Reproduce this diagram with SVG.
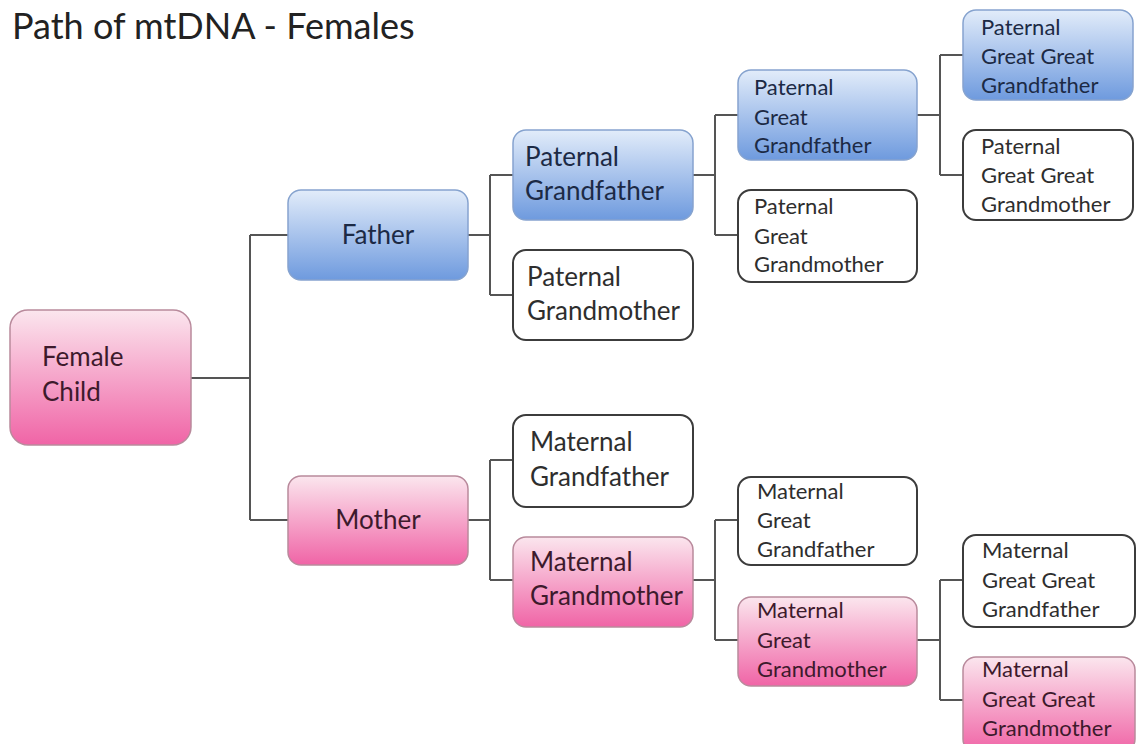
<svg xmlns="http://www.w3.org/2000/svg" width="1138" height="744" viewBox="0 0 1138 744">
<defs>
<linearGradient id="gBlue" x1="0" y1="0" x2="0" y2="1">
<stop offset="0" stop-color="#e2ecfa"/>
<stop offset="1" stop-color="#6e9ade"/>
</linearGradient>
<linearGradient id="gPink" x1="0" y1="0" x2="0" y2="1">
<stop offset="0" stop-color="#fbe6ee"/>
<stop offset="1" stop-color="#f064a6"/>
</linearGradient>
</defs>
<style>
text{font-family:Lato,"Liberation Sans",sans-serif;}
.blue rect{fill:url(#gBlue);stroke:#86a3cf;stroke-width:1.5;}
.pink rect{fill:url(#gPink);stroke:#b98a9c;stroke-width:1.5;}
.white rect{fill:#ffffff;stroke:#3c3c3c;stroke-width:2;}
.blue text{fill:#1c2a45;}
.pink text{fill:#3d1a2c;}
.white text{fill:#2e2e2e;}
.l2{font-size:26px;}
.l3{font-size:22px;}
.conn{fill:none;stroke:#555555;stroke-width:2;}
</style>
<rect width="1138" height="744" fill="#ffffff"/>
<text x="12" y="39" font-size="36" fill="#222222">Path of mtDNA - Females</text>

<g id="connectors" class="conn">
<path d="M190 378 H250 M250 235 V520 M250 235 H288 M250 520 H288"/>
<path d="M468 235 H490 M490 175 V295 M490 175 H513 M490 295 H513"/>
<path d="M693 175 H715 M715 115 V235 M715 115 H738 M715 235 H738"/>
<path d="M917 115 H940 M940 55 V175 M940 55 H963 M940 175 H963"/>
<path d="M468 520 H490 M490 460 V580 M490 460 H513 M490 580 H513"/>
<path d="M693 580 H715 M715 520 V640 M715 520 H738 M715 640 H738"/>
<path d="M917 640 H940 M940 580 V700 M940 580 H963 M940 700 H963"/>
</g>

<g id="female-child" class="pink">
<rect x="10" y="310" width="181" height="135" rx="18"/>
<text x="42" y="366" class="l2">Female</text>
<text x="42" y="401" class="l2">Child</text>
</g>

<g id="father" class="blue">
<rect x="288" y="190" width="180" height="90" rx="13"/>
<text x="378" y="244" class="l2" text-anchor="middle">Father</text>
</g>

<g id="mother" class="pink">
<rect x="288" y="476" width="180" height="89" rx="13"/>
<text x="378" y="529" class="l2" text-anchor="middle">Mother</text>
</g>

<g id="paternal-grandfather" class="blue">
<rect x="513" y="130" width="180" height="90" rx="13"/>
<text x="525" y="166" class="l2">Paternal</text>
<text x="525" y="200" class="l2">Grandfather</text>
</g>

<g id="paternal-grandmother" class="white">
<rect x="513" y="250" width="180" height="90" rx="13"/>
<text x="527" y="286" class="l2">Paternal</text>
<text x="527" y="320" class="l2">Grandmother</text>
</g>

<g id="maternal-grandfather" class="white">
<rect x="513" y="415" width="180" height="92" rx="13"/>
<text x="530" y="451" class="l2">Maternal</text>
<text x="530" y="486" class="l2">Grandfather</text>
</g>

<g id="maternal-grandmother" class="pink">
<rect x="513" y="537" width="180" height="90" rx="13"/>
<text x="530" y="571" class="l2">Maternal</text>
<text x="530" y="605" class="l2">Grandmother</text>
</g>

<g id="paternal-great-grandfather" class="blue">
<rect x="738" y="70" width="179" height="90" rx="13"/>
<text x="754" y="95" class="l3">Paternal</text>
<text x="754" y="125" class="l3">Great</text>
<text x="754" y="153" class="l3">Grandfather</text>
</g>

<g id="paternal-great-grandmother" class="white">
<rect x="738" y="190" width="179" height="92" rx="13"/>
<text x="754" y="214" class="l3">Paternal</text>
<text x="754" y="244" class="l3">Great</text>
<text x="754" y="272" class="l3">Grandmother</text>
</g>

<g id="maternal-great-grandfather" class="white">
<rect x="738" y="477" width="179" height="88" rx="13"/>
<text x="757" y="499" class="l3">Maternal</text>
<text x="757" y="528" class="l3">Great</text>
<text x="757" y="557" class="l3">Grandfather</text>
</g>

<g id="maternal-great-grandmother" class="pink">
<rect x="738" y="597" width="179" height="89" rx="13"/>
<text x="757" y="618" class="l3">Maternal</text>
<text x="757" y="648" class="l3">Great</text>
<text x="757" y="677" class="l3">Grandmother</text>
</g>

<g id="paternal-gg-grandfather" class="blue">
<rect x="963" y="10" width="170" height="90" rx="13"/>
<text x="981" y="35" class="l3">Paternal</text>
<text x="981" y="64" class="l3">Great Great</text>
<text x="981" y="93" class="l3">Grandfather</text>
</g>

<g id="paternal-gg-grandmother" class="white">
<rect x="963" y="130" width="170" height="90" rx="13"/>
<text x="981" y="154" class="l3">Paternal</text>
<text x="981" y="183" class="l3">Great Great</text>
<text x="981" y="212" class="l3">Grandmother</text>
</g>

<g id="maternal-gg-grandfather" class="white">
<rect x="963" y="535" width="172" height="92" rx="13"/>
<text x="982" y="558" class="l3">Maternal</text>
<text x="982" y="588" class="l3">Great Great</text>
<text x="982" y="617" class="l3">Grandfather</text>
</g>

<g id="maternal-gg-grandmother" class="pink">
<rect x="963" y="657" width="172" height="95" rx="13"/>
<text x="982" y="677" class="l3">Maternal</text>
<text x="982" y="707" class="l3">Great Great</text>
<text x="982" y="736" class="l3">Grandmother</text>
</g>
</svg>
